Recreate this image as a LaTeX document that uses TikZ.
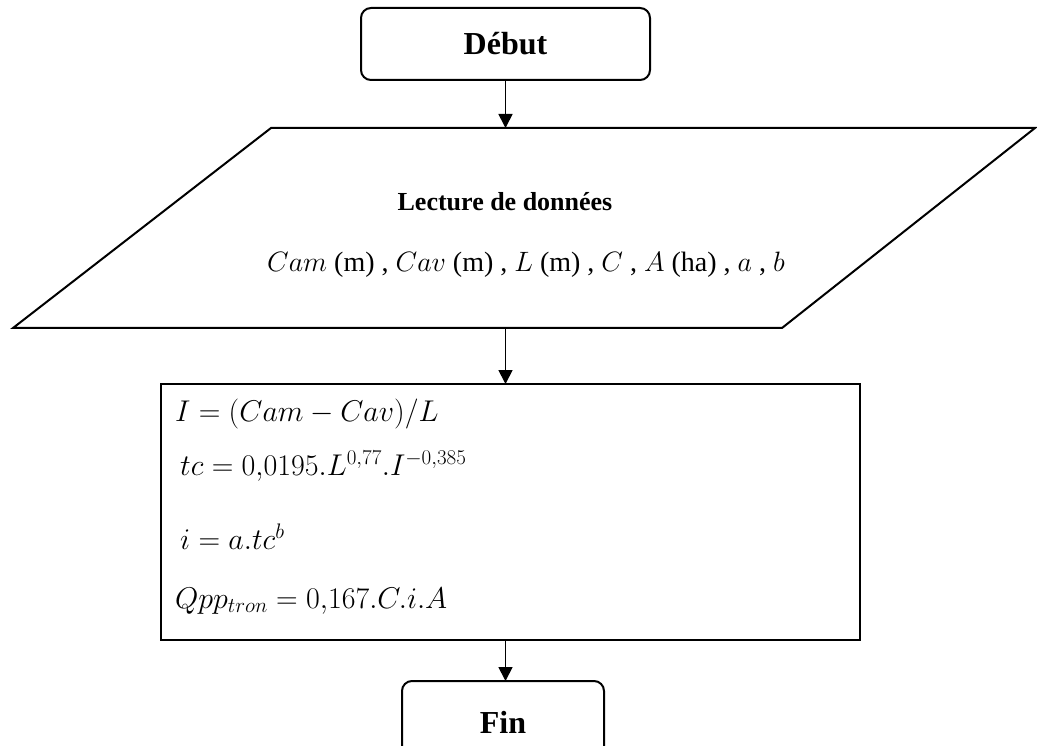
\RequirePackage{fix-cm}
\documentclass[tikz,border=0pt]{standalone}
\usepackage{fontspec}
\setmainfont{Liberation Serif}
\usetikzlibrary{arrows.meta}
\begin{document}
\begin{tikzpicture}[x=1pt,y=-1pt,
  box/.style={draw,line width=2pt},
  term/.style={box,rounded corners=10pt},
  big/.style={font=\fontsize{32}{36}\selectfont\bfseries},
  mid/.style={font=\fontsize{26}{30}\selectfont\bfseries},
  mathtxt/.style={font=\fontsize{28}{32}\selectfont},
  formula/.style={font=\fontsize{30}{34}\selectfont,anchor=west,inner sep=0pt},
  arr/.style={line width=1.8pt,-{Triangle[width=14pt,length=14pt]}}]
\useasboundingbox (0,0) rectangle (1037,746);
% Debut
\draw[term] (361,8) rectangle (650,80);
\node[big] (debut) at (505.5,44) {Début};
\coordinate (debutB) at (505.5,80);
% Parallelogram
\draw[box] (271,128) -- (1035,128) -- (782,328) -- (13,328) -- cycle;
\coordinate (parT) at (505.5,128);
\coordinate (parB) at (505.5,328);
\node[mid] (lect) at (505,202) {Lecture de données};
\node[mathtxt] (vars) at (526,265) {$Cam$ (m) , $Cav$ (m) , $L$ (m) , $C$ , $A$ (ha) , $a$ , $b$};
% Process
\draw[box] (161,384) rectangle (860,640);
\coordinate (procT) at (505.5,384);
\coordinate (procB) at (505.5,640);
\node[formula] (f1) at (175,414) {$I=(Cam-Cav)/L$};
\node[formula] (f2) at (180,466) {$tc=0{,}0195.L^{0{,}77}.I^{-0{,}385}$};
\node[formula] (f3) at (180,537) {$i=a.tc^{b}$};
\node[formula] (f4) at (175,601) {$Qpp_{tron}=0{,}167.C.i.A$};
% Fin
\draw[term] (402,681) rectangle (604,770);
\coordinate (finT) at (505.5,681);
\node[big] (fin) at (503,722) {Fin};
% arrows
\draw[arr] (debutB) -- (parT);
\draw[arr] (parB) -- (procT);
\draw[arr] (procB) -- (finT);
\end{tikzpicture}
\end{document}
